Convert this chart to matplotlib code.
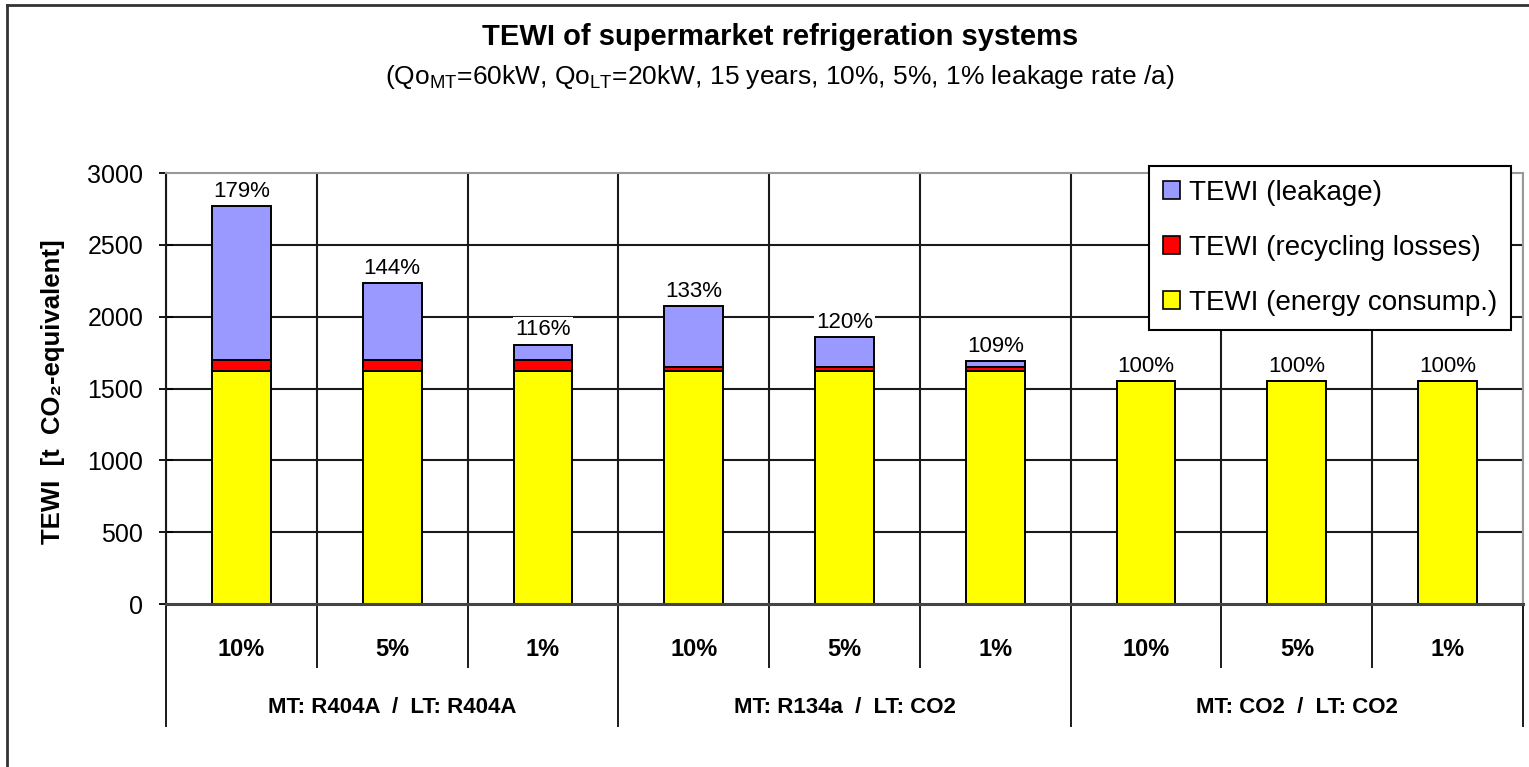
import matplotlib
matplotlib.use("Agg")
import matplotlib.pyplot as plt
from matplotlib.patches import Patch
from matplotlib.lines import Line2D
import matplotlib.transforms as mtransforms
import numpy as np

# DATA
leak_rates = ['10%', '5%', '1%', '10%', '5%', '1%', '10%', '5%', '1%']
systems = ['MT: R404A  /  LT: R404A', 'MT: R134a  /  LT: CO2', 'MT: CO2  /  LT: CO2']
energy = [1625, 1625, 1625, 1625, 1625, 1625, 1550, 1550, 1550]
recycling = [76, 76, 76, 28, 28, 28, 0, 0, 0]
leakage = [1070, 532, 105, 421, 203, 37, 0, 0, 0]
pct_labels = ['179%', '144%', '116%', '133%', '120%', '109%', '100%', '100%', '100%']

C_LEAK = '#9999FF'
C_RECY = '#FF0000'
C_ENER = '#FFFF00'

REG = ['Liberation Sans', 'DejaVu Sans']
NARROW = ['Liberation Sans Narrow', 'Liberation Sans', 'DejaVu Sans']

plt.rcParams['font.family'] = REG

fig = plt.figure(figsize=(15.29, 7.67), dpi=100)
ax = fig.add_axes([0.1086, 0.2125, 0.8875, 0.5619])

x = np.arange(len(leak_rates))
w = 0.39
energy = np.array(energy)
recycling = np.array(recycling)
leakage = np.array(leakage)

ax.bar(x, energy, w, color=C_ENER, edgecolor='black', linewidth=1.4, zorder=3)
ax.bar(x, recycling, w, bottom=energy, color=C_RECY, edgecolor='black',
       linewidth=1.4, zorder=3)
ax.bar(x, leakage, w, bottom=energy + recycling, color=C_LEAK, edgecolor='black',
       linewidth=1.4, zorder=3)

totals = energy + recycling + leakage
for xi, t, lab in zip(x, totals, pct_labels):
    ax.annotate(lab, (xi, t), xytext=(0, 3), textcoords='offset points',
                ha='center', va='bottom', fontsize=16, zorder=4,
                bbox=dict(facecolor='white', edgecolor='none', pad=1.5))

ax.set_xlim(-0.5, len(x) - 0.5)
ax.set_ylim(0, 3000)
ax.set_yticks(np.arange(0, 3001, 500))
ax.tick_params(axis='y', direction='inout', length=10, width=1.3, labelsize=18, pad=11.5)
ax.set_xticks([])

# grid
for yv in range(500, 3000, 500):
    ax.axhline(yv, color='#1a1a1a', lw=1.5, zorder=1)
for xb in np.arange(-0.5, len(x), 1.0):
    ax.axvline(xb, color='#1a1a1a', lw=1.5, zorder=1)

ax.spines['left'].set_color('#1a1a1a')
ax.spines['left'].set_linewidth(1.5)
ax.spines['bottom'].set_color('#444444')
ax.spines['bottom'].set_linewidth(2.2)
ax.spines['bottom'].set_zorder(5)
ax.spines['top'].set_color('#999999')
ax.spines['top'].set_linewidth(1.5)
ax.spines['right'].set_color('#999999')
ax.spines['right'].set_linewidth(1.5)

# category table below the axis
trans = mtransforms.blended_transform_factory(ax.transData, ax.transAxes)
for xb in np.arange(-0.5, len(x), 1.0):
    long_line = int(round(xb + 0.5)) % 3 == 0
    y_end = -0.283 if long_line else -0.146
    ax.add_line(Line2D([xb, xb], [0, y_end], transform=trans, color='#1a1a1a',
                       lw=1.4, clip_on=False))
for xi, lab in zip(x, leak_rates):
    ax.text(xi, -0.105, lab, transform=trans, ha='center', va='center',
            fontsize=17, fontweight='bold', family=NARROW)
for gi, lab in enumerate(systems):
    ax.text(gi * 3 + 1, -0.241, lab, transform=trans, ha='center', va='center',
            fontsize=16, fontweight='bold', family=NARROW)

ax.set_ylabel('TEWI  [t  CO\u2082-equivalent]', fontsize=18.5, fontweight='bold',
              family=NARROW)
ax.yaxis.set_label_coords(0.0425, 0.489, transform=fig.transFigure)

# titles
fig.text(0.51, 0.952, 'TEWI of supermarket refrigeration systems', ha='center',
         va='center', fontsize=21, fontweight='bold', family=NARROW)
fig.text(0.51, 0.8996,
         r'(Qo$_\mathregular{MT}$=60kW, Qo$_\mathregular{LT}$=20kW, 15 years, 10%, 5%, 1% leakage rate /a)',
         ha='center', va='center', fontsize=19, family=NARROW)

# legend
handles = [Patch(facecolor=C_LEAK, edgecolor='black', lw=1.2),
           Patch(facecolor=C_RECY, edgecolor='black', lw=1.2),
           Patch(facecolor=C_ENER, edgecolor='black', lw=1.2)]
labels = ['TEWI (leakage)', 'TEWI (recycling losses)', 'TEWI (energy consump.)']
leg = fig.legend(handles, labels, loc='upper right', bbox_to_anchor=(0.9882, 0.7836),
                 bbox_transform=fig.transFigure, fontsize=20, frameon=True,
                 fancybox=False, framealpha=1, edgecolor='black', borderaxespad=0,
                 handlelength=0.62, handleheight=0.62, handletextpad=0.3,
                 labelspacing=1.05, borderpad=0.5)
leg.get_frame().set_linewidth(1.5)
leg.set_zorder(10)

# outer chart frame (cropped at right and bottom)
fig.add_artist(Line2D([0.0046, 0.0046], [0.0, 0.9935], transform=fig.transFigure,
                      color='#333333', lw=2))
fig.add_artist(Line2D([0.0046, 1.0], [0.9935, 0.9935], transform=fig.transFigure,
                      color='#333333', lw=2))

fig.savefig('out.png', dpi=100)
